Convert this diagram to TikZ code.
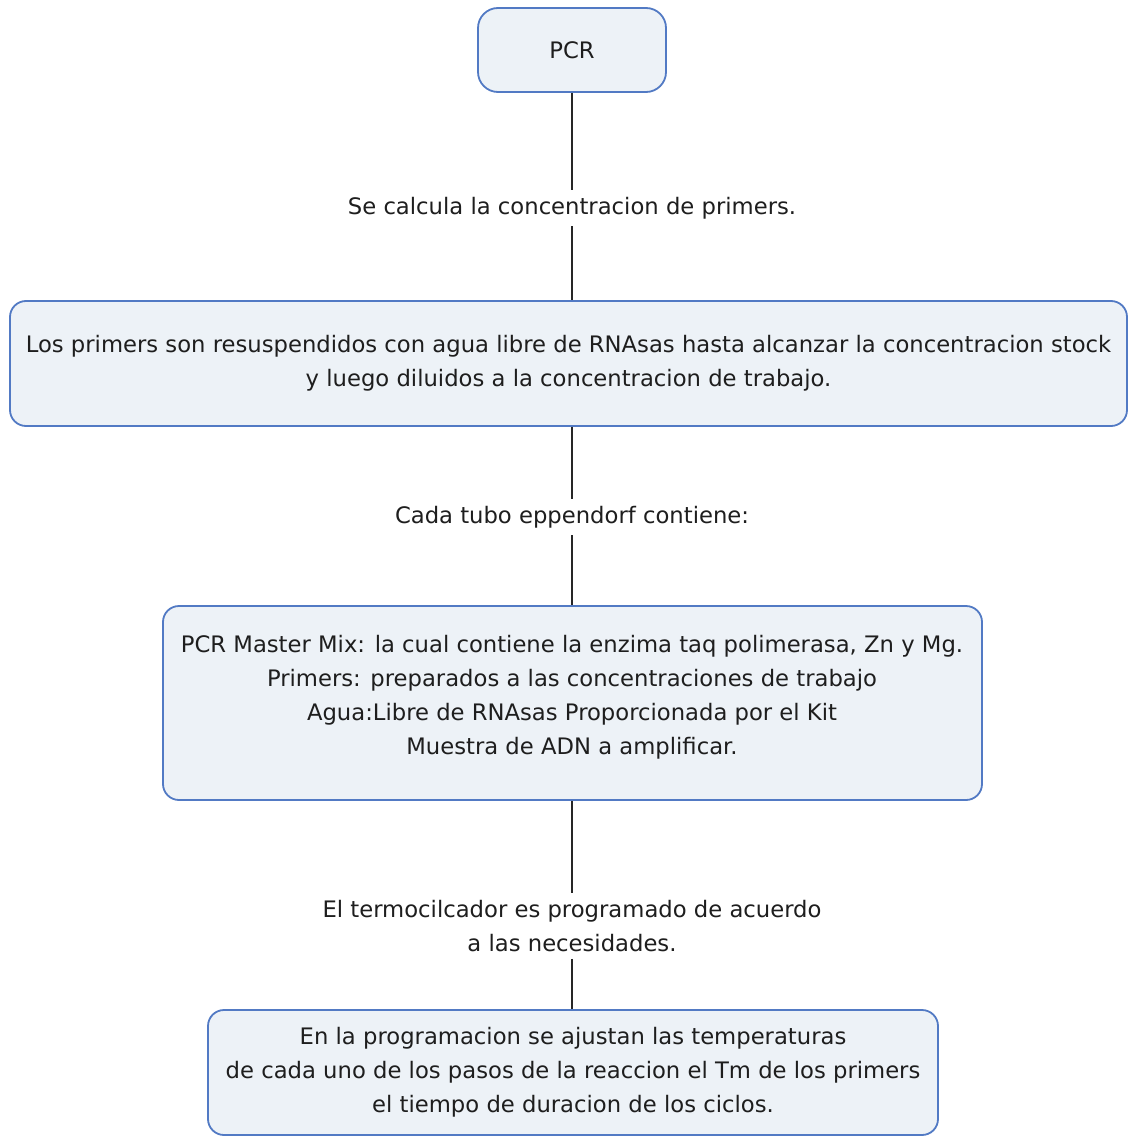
\documentclass[tikz,border=0pt]{standalone}
\usepackage{fontspec}
\setmainfont{DejaVu Sans}
\definecolor{boxfill}{RGB}{237,242,247}
\definecolor{boxline}{RGB}{82,122,196}
\definecolor{textcol}{RGB}{30,30,30}
\begin{document}
\begin{tikzpicture}[x=1pt,y=-1pt,
  box/.style={draw=boxline, line width=1.8pt, fill=boxfill, rounded corners=16pt, inner sep=0pt,
    align=center, font=\fontsize{22.7}{34}\selectfont, text=textcol},
  txt/.style={align=center, font=\fontsize{22.7}{34}\selectfont, text=textcol, inner sep=0pt},
  lbl/.style={txt, inner ysep=7pt, inner xsep=2pt},
  conn/.style={draw=black!85, line width=1.6pt}]
\useasboundingbox (0,0) rectangle (1130,1137);
\fill[white] (0,0) rectangle (1130,1137);

\node[box, rounded corners=20pt, minimum width=188pt, minimum height=84pt] (pcr) at (572,50) {PCR};

\node[lbl] (l1) at (572,208) {Se calcula la concentracion de primers.};

\node[box, minimum width=1117pt, minimum height=125pt] (b2) at (568.5,363.5)
  {Los primers son resuspendidos con agua libre de RNAsas hasta alcanzar la concentracion stock\\
   y luego diluidos a la concentracion de trabajo.};

\node[lbl] (l2) at (572,517) {Cada tubo eppendorf contiene:};

\node[box, minimum width=819pt, minimum height=194pt] (b3) at (572.5,703) {};
\node[txt] (t3) at (572,697)
  {PCR Master Mix: la cual contiene la enzima taq polimerasa, Zn y Mg.\\
   Primers: preparados a las concentraciones de trabajo\\
   Agua:Libre de RNAsas Proporcionada por el Kit\\
   Muestra de ADN a amplificar.};

\node[lbl] (l3) at (572,926) {El termocilcador es programado de acuerdo\\ a las necesidades.};

\node[box, minimum width=730pt, minimum height=125pt] (b4) at (573,1072.5)
  {En la programacion se ajustan las temperaturas\\
   de cada uno de los pasos de la reaccion el Tm de los primers\\
   el tiempo de duracion de los ciclos.};

\draw[conn] (pcr) -- (l1);
\draw[conn] (l1) -- (l1 |- b2.north);
\draw[conn] (l1 |- b2.south) -- (l2);
\draw[conn] (l2) -- (l2 |- b3.north);
\draw[conn] (l2 |- b3.south) -- (l3);
\draw[conn] (l3) -- (l3 |- b4.north);
\end{tikzpicture}
\end{document}
